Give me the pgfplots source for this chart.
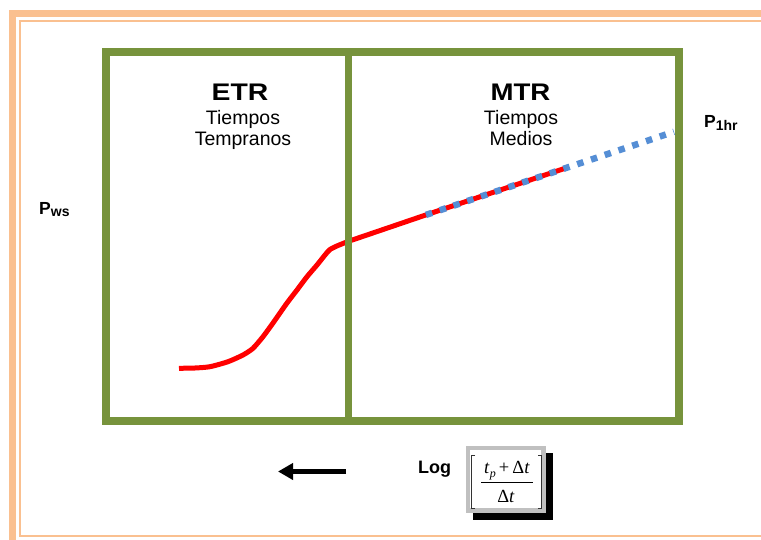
\documentclass[border=0pt]{standalone}
\usepackage{pgfplots}
\pgfplotsset{compat=1.18}
\usepackage{fontspec}
\setmainfont{Liberation Sans}
\newfontfamily\tms{Liberation Serif}
\usetikzlibrary{arrows.meta}
\definecolor{peach}{HTML}{FAC090}
\definecolor{olive}{HTML}{77933C}
\definecolor{dotblue}{HTML}{558ED5}
\definecolor{boxgrey}{HTML}{C0C0C0}

\begin{document}
\begin{tikzpicture}
\path[use as bounding box] (0,0) rectangle (761pt,540pt);
\begin{axis}[
  at={(106pt,119pt)}, anchor=south west,
  scale only axis, width=573pt, height=369pt,
  xmin=106, xmax=679, ymin=52, ymax=421, y dir=reverse,
  axis line style={draw=olive, line width=8pt},
  xtick=\empty, ytick=\empty,
  clip=false,
]
% page border
\draw[peach, line width=7pt] (axis cs:12.5,560) -- (axis cs:12.5,14) -- (axis cs:780,14);
\draw[peach, line width=2pt] (axis cs:780,21) -- (axis cs:20,21) -- (axis cs:20,535.5) -- (axis cs:780,535.5);
\draw[peach, line width=7pt] (axis cs:12.5,543) -- (axis cs:780,543);

% red curve
\addplot[red, line width=5pt, line join=round, smooth, tension=0.4] coordinates {
 (179,368.3) (195,368) (210,366.7) (228,361.7) (243,355) (253,348.3)
 (263,336.7) (273,323) (287,303) (297,290) (307,276.7) (317,265)
 (325,255) (330,249.5) (338,245.5) (348,241.5)
};
\addplot[red, line width=5pt, line join=round] coordinates {
 (347,241.8) (426,214.9) (565,168.3)
};
% blue dotted extension
\addplot[dotblue, line width=6.5pt, dash pattern=on 6.5pt off 8pt] coordinates {
 (426,214.9) (674,131.8)
};
% divider
\addplot[olive, line width=7.5pt] coordinates {(348.5,52) (348.5,421)};

% region labels
\node[anchor=base, font=\fontsize{24}{28}\selectfont\bfseries] at (axis cs:240,100.5) {\scalebox{1.18}[1]{ETR}};
\node[anchor=base, font=\fontsize{19.5}{20}\selectfont] at (axis cs:243,125) {Tiempos};
\node[anchor=base, font=\fontsize{19.5}{20}\selectfont] at (axis cs:243,145.5) {Tempranos};
\node[anchor=base, font=\fontsize{24}{28}\selectfont\bfseries] at (axis cs:520.5,100.5) {\scalebox{1.15}[1]{MTR}};
\node[anchor=base, font=\fontsize{19.5}{20}\selectfont] at (axis cs:521,125) {Tiempos};
\node[anchor=base, font=\fontsize{19.5}{20}\selectfont] at (axis cs:521,145.5) {Medios};

% P labels
\node[anchor=base west, inner sep=0pt, font=\fontsize{17.5}{18}\selectfont\bfseries] at (axis cs:39,215) {P\raisebox{-2pt}{\fontsize{14}{14}\selectfont ws}};
\node[anchor=base west, inner sep=0pt, font=\fontsize{17.5}{18}\selectfont\bfseries] at (axis cs:704,128) {P\raisebox{-3pt}{\fontsize{14}{14}\selectfont 1hr}};

% arrow
\draw[line width=5pt, -{Triangle[length=15pt, width=16pt]}] (axis cs:346,471.5) -- (axis cs:278,471.5);

% Log label and boxed fraction
\node[anchor=base west, inner sep=0pt, font=\fontsize{18}{18}\selectfont\bfseries] at (axis cs:418,473) {Log};
\fill[black] (axis cs:472.7,452.7) rectangle (axis cs:553,520);
\draw[boxgrey, line width=4.5pt, fill=white] (axis cs:468,448) rectangle (axis cs:543.5,510.5);
\draw[black!80, line width=1pt] (axis cs:475,455) -- (axis cs:471.7,455) -- (axis cs:471.7,508.3) -- (axis cs:475,508.3);
\draw[black!80, line width=1pt] (axis cs:538.3,455) -- (axis cs:541.7,455) -- (axis cs:541.7,508.3) -- (axis cs:538.3,508.3);
\draw[black, line width=0.9pt] (axis cs:481,482) -- (axis cs:533,482);
\node[anchor=base, inner sep=0pt, font=\fontsize{18.5}{18}\selectfont\tms] at (axis cs:507,473) {\textit{t}\raisebox{-4pt}{\fontsize{12}{12}\selectfont\textit{p}}\,+\,Δ\textit{t}};
\node[anchor=base, inner sep=0pt, font=\fontsize{18.5}{18}\selectfont\tms] at (axis cs:506,502.5) {Δ\textit{t}};
\end{axis}
\end{tikzpicture}
\end{document}
